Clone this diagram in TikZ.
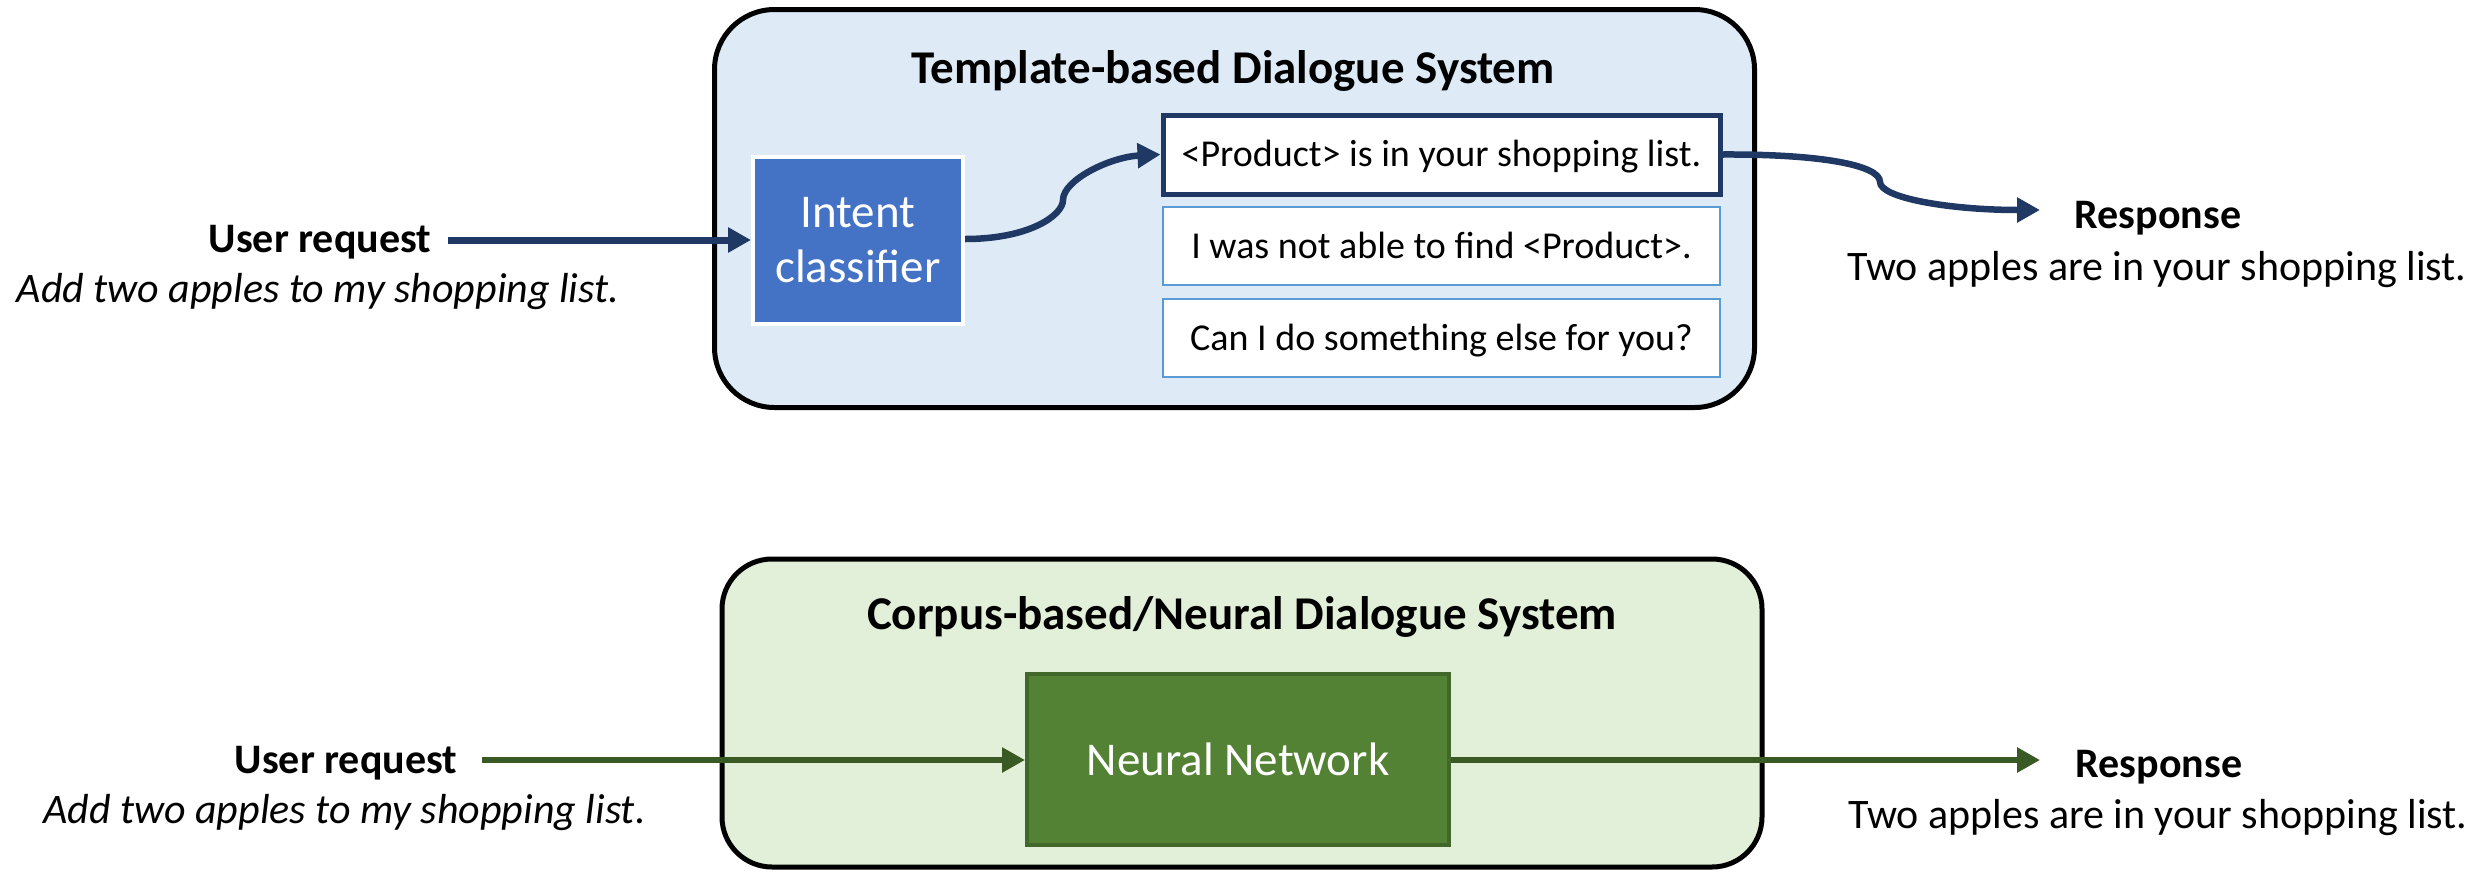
\documentclass[tikz,border=0pt]{standalone}
\usepackage{fontspec}
\setmainfont{Carlito}
\usetikzlibrary{arrows.meta}

\definecolor{navy}{HTML}{1F3864}
\definecolor{intentblue}{HTML}{4472C4}
\definecolor{tplline}{HTML}{5B9BD5}
\definecolor{tplfill}{HTML}{DEEBF7}
\definecolor{nnfill}{HTML}{548235}
\definecolor{nnline}{HTML}{41672B}
\definecolor{leaf}{HTML}{3A5A25}
\definecolor{neuralfill}{HTML}{E2F0D9}

\begin{document}
\begin{tikzpicture}[x=1pt,y=-1pt,
  panel/.style={draw=black,line width=5pt,rounded corners=#1},
  paneltitle/.style={anchor=base,font=\fontsize{47pt}{56pt}\selectfont\bfseries},
  tplbox/.style={draw=tplline,fill=white,line width=2.5pt,minimum width=557pt,minimum height=78pt,
    text height=28pt,text depth=4pt,inner sep=0pt,font=\fontsize{38pt}{45pt}\selectfont},
  chosen/.style={draw=navy,line width=5pt,minimum height=79pt},
  headlabel/.style={anchor=base,font=\fontsize{42pt}{50pt}\selectfont\bfseries},
  reqlabel/.style={anchor=base,font=\fontsize{42pt}{50pt}\selectfont\itshape},
  resplabel/.style={anchor=base,font=\fontsize{42pt}{50pt}\selectfont},
  flow/.style={line width=7pt,-{Triangle[length=23pt,width=24pt]}},
]
\useasboundingbox (0,0) rectangle (2483,873);

% ---------- template-based system ----------
\node[panel=60pt,fill=tplfill,minimum width=1040pt,minimum height=398pt] (tpl) at (1234.5,208.5) {};
\node[paneltitle] (tpltitle) at (1233,83) {Template-based Dialogue System};

\node[draw=white,line width=4pt,fill=intentblue,text=white,minimum width=210pt,minimum height=167pt,
  align=center,font=\fontsize{47pt}{55pt}\selectfont] (ic) at (858,240.5) {Intent\\classifier};

\node[tplbox,chosen] (b1) at (1441.5,154.5) {<Product> is in your shopping list.};
\node[tplbox] (b2) at (1441.5,246) {I was not able to find <Product>.};
\node[tplbox] (b3) at (1441.5,338) {Can I do something else for you?};

\node[headlabel] (req1) at (320,252) {User request};
\node[reqlabel] (req1txt) at (318,302) {Add two apples to my shopping list.};
\node[headlabel] (resp1) at (2158,228) {Response};
\node[resplabel] (resp1txt) at (2157,280) {Two apples are in your shopping list.};

\coordinate (in1) at (448,240);
\coordinate (out1) at (2040,210);

\draw[flow,navy] (in1) -- (ic.west |- in1);
\draw[flow,navy,line width=6.5pt] (ic.east |- 0,239)
  .. controls (1030,239) and (1063,215) .. (1063,200)
  .. controls (1063,180) and (1110,157) .. (b1.west);
\draw[flow,navy,line width=6.5pt] (b1.east)
  .. controls (1820,154) and (1880,165) .. (1880,182)
  .. controls (1880,198) and (1950,210) .. (out1);

% ---------- corpus-based / neural system ----------
\node[panel=50pt,fill=neuralfill,minimum width=1040pt,minimum height=308pt] (nrl) at (1242,713) {};
\node[paneltitle] (nrltitle) at (1242,629) {Corpus-based/Neural Dialogue System};

\node[draw=nnline,line width=4pt,fill=nnfill,text=white,minimum width=422pt,minimum height=171pt,
  font=\fontsize{47pt}{55pt}\selectfont] (nn) at (1238,759.5) {Neural Network};

\node[headlabel] (req2) at (346,773) {User request};
\node[reqlabel] (req2txt) at (344.5,823) {Add two apples to my shopping list.};
\node[headlabel] (resp2) at (2159,777) {Response};
\node[resplabel] (resp2txt) at (2158,828) {Two apples are in your shopping list.};

\coordinate (in2) at (482,760);
\coordinate (out2) at (2040,760);

\draw[flow,leaf,line width=6pt] (in2) -- (nn.west |- in2);
\draw[flow,leaf,line width=6pt] (nn.east |- out2) -- (out2);
\end{tikzpicture}
\end{document}
